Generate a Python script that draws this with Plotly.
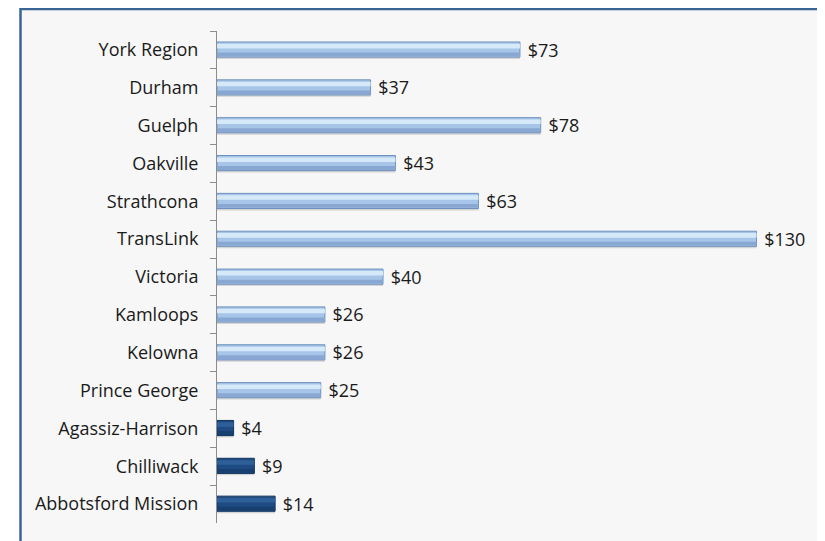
import plotly.graph_objects as go

regions = ["York Region", "Durham", "Guelph", "Oakville", "Strathcona", "TransLink",
           "Victoria", "Kamloops", "Kelowna", "Prince George", "Agassiz-Harrison",
           "Chilliwack", "Abbotsford Mission"]
costs = [73, 37, 78, 43, 63, 130, 40, 26, 26, 25, 4, 9, 14]
highlight = [False] * 10 + [True] * 3

base_col = ["#1e4b83" if h else "#a7c5e8" for h in highlight]
edge_col = ["#12345c" if h else "#6f91bd" for h in highlight]
low_col = ["#173f70" if h else "#88a8d3" for h in highlight]
shine_col = ["#2f5f99" if h else "#d6e9f8" for h in highlight]
labels = ["\u00a0$%d" % v for v in costs]

fig = go.Figure()

# soft shadow under each bar
fig.add_trace(go.Bar(y=regions, x=costs, orientation="h", width=0.40, offset=-0.16,
                     marker=dict(color="rgba(0,0,0,0.14)", line=dict(width=0)),
                     hoverinfo="skip", showlegend=False))
# main bar
fig.add_trace(go.Bar(y=regions, x=costs, orientation="h", width=0.40, offset=-0.21,
                     marker=dict(color=base_col, line=dict(color=edge_col, width=1)),
                     text=labels, textposition="outside", cliponaxis=False,
                     textfont=dict(size=18, color="#1a1a1a"),
                     showlegend=False))
# darker lower band
fig.add_trace(go.Bar(y=regions, x=costs, orientation="h", width=0.10, offset=0.07,
                     marker=dict(color=low_col, line=dict(width=0)),
                     hoverinfo="skip", showlegend=False))
# shine stripe
fig.add_trace(go.Bar(y=regions, x=costs, orientation="h", width=0.12, offset=-0.16,
                     marker=dict(color=shine_col, line=dict(width=0)),
                     hoverinfo="skip", showlegend=False))

# page body has an 8px margin, so the figure is shrunk by that to avoid scrollbars
fig.update_layout(
    width=817, height=533,
    barmode="overlay",
    paper_bgcolor="white",
    plot_bgcolor="#f7f7f7",
    font=dict(family="Open Sans", size=18, color="#1a1a1a"),
    margin=dict(l=209, r=27, t=23, b=18, autoexpand=False),
    uniformtext=dict(minsize=18, mode="show"),
)
fig.update_xaxes(range=[0, 140], visible=False, showgrid=False, automargin=False)
fig.update_yaxes(autorange="reversed", showgrid=False, showline=True, linecolor="#8c8c8c",
                 linewidth=1, ticks="outside", tickson="boundaries", ticklen=6,
                 tickcolor="#8c8c8c", ticklabelstandoff=14, automargin=False)

# outer frame
fig.add_shape(type="rect", xref="paper", yref="paper",
              x0=(12.5 - 209) / 581, x1=(813.5 - 209) / 581, y0=-0.2, y1=1 + 22 / 492,
              line=dict(color="#3b6496", width=2.5), fillcolor="#f7f7f7", layer="below")

fig.write_html("out.html")
